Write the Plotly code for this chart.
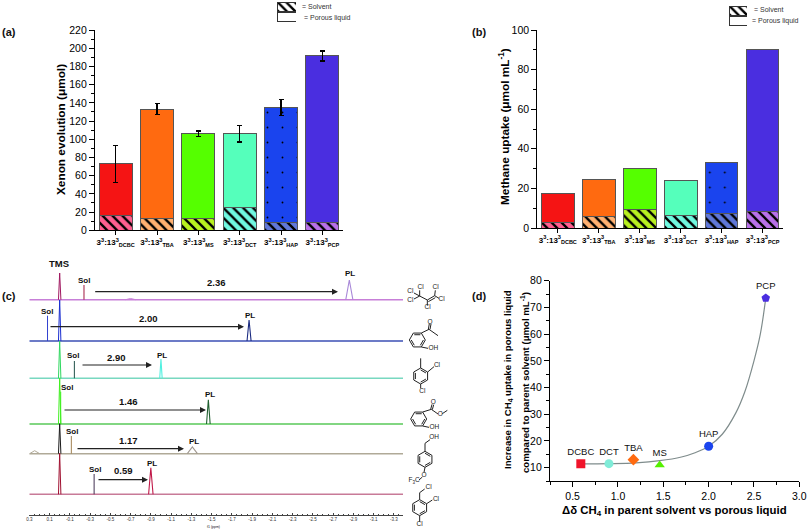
import math
import plotly.graph_objects as go

W, H = 808, 531
FONT = "Liberation Sans"

# ---- panels (a), (b) data
LABELS = ["DCBC", "TBA", "MS", "DCT", "HAP", "PCP"]
XE_TOTAL = [73, 133, 106, 106, 135, 191.5]
XE_SOLVENT = [16.5, 12.5, 12.5, 25, 8.5, 8.5]
XE_ERR = [20.5, 6, 3, 9, 9, 5.5]
CH4_TOTAL = [17.3, 24.5, 30, 23.8, 33, 90]
CH4_SOLVENT = [2.8, 6, 9.5, 6.3, 7.3, 8.5]
TOP_COLORS = ["#f51414", "#ff6a10", "#55ff00", "#55ffbb", "#1a44ee", "#4a2ee0"]
HATCH_COLORS = ["#ff5f90", "#ffb070", "#b8f020", "#70f8e0", "#6078d8", "#b870e8"]
TOP_PATTERN = ["", "", "", "", ".", ""]

# ---- panel (d) data
D_X = [0.59, 0.90, 1.17, 1.46, 2.00, 2.63]
D_Y = [11.5, 11.5, 13, 11, 18, 73.5]
D_NAMES = ["DCBC", "DCT", "TBA", "MS", "HAP", "PCP"]
D_SYMBOLS = ["square", "circle", "diamond", "triangle-up", "circle", "pentagon"]
D_COLORS = ["#f0142a", "#80ecd8", "#ff6a10", "#55f000", "#1a44ee", "#4a2ee0"]
CURVE_X = [0.60, 0.90, 1.20, 1.46, 1.70, 1.85, 2.00, 2.15, 2.30, 2.40, 2.50, 2.57, 2.63]
CURVE_Y = [11.4, 11.5, 11.8, 12.6, 14.0, 15.6, 18.0, 22.5, 30.5, 38.5, 50, 60, 73.5]

# ---- panel (c) data: six stacked spectra, top to bottom
ROW_BASE = [215.3, 174, 136.7, 91, 61.3, 20.7]
TMS_HEIGHT = [26.7, 41, 37, 46, 30, 41]
SOL_PPM = [-0.24, 0.12, -0.145, -0.01, -0.115, -0.34]
SOL_HEIGHT = [14.7, 25.3, 17.3, 32.3, 17.7, 20.3]
PL_PPM = [-2.86, -1.87, -1.00, -1.468, -1.31, -0.90]
PL_HEIGHT = [19.7, 21, 19.3, 24.3, 6.7, 26.6]
PL_WIDTH = [0.035, 0.02, 0.012, 0.018, 0.05, 0.022]
ROW_COLOR = ["#c77fd8", "#3b4fb5", "#78d8c0", "#58c858", "#b0aa98", "#c87a98"]
TMS_COLOR = ["#a01860", "#1a2ed0", "#30d860", "#40f020", "#1a1a1a", "#a01030"]
SOL_COLOR = ["#a01840", "#3040d0", "#205048", "#40f020", "#a08050", "#403050"]
PL_COLOR = ["#a888d8", "#1a2a80", "#50f0e0", "#206030", "#a09890", "#c01848"]
PPM_TICKS = [0.3, 0.1, -0.1, -0.3, -0.5, -0.7, -0.9, -1.1, -1.3, -1.5, -1.7, -1.9,
             -2.1, -2.3, -2.5, -2.7, -2.9, -3.1, -3.3]
SMALL_PPM = [0.247, -0.70]
SMALL_HEIGHT = [3, 1.2]
SMALL_ROW = [4, 0]

# Sol / PL labels, arrows and shift values (page pixels)
SOL_LABEL_X = [84, 47, 73, 67, 72, 95]
SOL_LABEL_Y = [280.7, 311.7, 355.7, 387.3, 431, 469]
PL_LABEL_X = [350, 250, 162, 210, 194, 152]
PL_LABEL_Y = [274, 315, 355, 394, 441, 463.7]
SHIFT_TEXT = ["2.36", "2.00", "2.90", "1.46", "1.17", "0.59"]
SHIFT_X = [216, 148, 117, 128, 128, 123]
SHIFT_Y = [282, 318, 357, 401, 440, 470]
ARROW_X0 = [93.7, 49, 81, 63, 76, 97]
ARROW_X1 = [338, 244, 152, 206, 184, 148]
ARROW_Y = [291.7, 326.7, 365, 410, 448.7, 479.7]

# ---- structure sketches (units: 1/3 px, inside the structure box)
RINGS = [(40, 225, "flat"), (50, 333, "point"), (44, 462, "flat"), (63, 583, "point"), (47, 728, "point")]
BONDS = [
    ((47, 93), (70, 105)), ((70, 105), (92, 92)), ((73, 110), (94, 98)), ((47, 93), (47, 76)),
    ((47, 93), (30, 84)), ((47, 93), (30, 102)), ((92, 92), (94, 76)), ((92, 92), (105, 100)),
    ((70, 105), (70, 122)),
    ((52, 204), (75, 193)), ((73, 193), (76, 176)), ((78, 193), (81, 177)), ((75, 193), (102, 212)),
    ((52, 246), (72, 250)),
    ((50, 309), (50, 280)), ((71, 321), (90, 305)), ((50, 357), (50, 370)),
    ((56, 441), (82, 433)), ((80, 433), (84, 418)), ((85, 434), (89, 419)), ((82, 433), (102, 447)),
    ((115, 446), (130, 436)), ((56, 483), (75, 487)),
    ((63, 559), (63, 535)), ((63, 535), (78, 524)), ((63, 607), (60, 622)), ((55, 636), (45, 645)),
    ((47, 704), (47, 683)), ((47, 683), (62, 672)), ((68, 716), (85, 705)), ((47, 752), (47, 770)),
]
ATOM_TEXT = ["Cl", "Cl", "Cl", "Cl", "Cl", "Cl", "O", "OH", "Cl", "Cl", "O", "O", "OH", "OH", "O", "F<sub>3</sub>C",
             "Cl", "Cl", "Cl"]
ATOM_X = [50, 19, 19, 95, 113, 71, 78, 88, 99, 55, 88, 109, 91, 90, 60, 30, 74, 96, 47]
ATOM_Y = [68, 80, 105, 68, 104, 128, 172, 250, 301, 378, 412, 449, 488, 517, 630, 647, 667, 704, 778]


def px_x(a, b):
    return [a / W, b / W]


def px_y(bottom, top):
    return [1 - bottom / H, 1 - top / H]


def tick_label(name):
    return ("<b>3<sup>3</sup>:13<sup>3</sup>"
            f"<sub><span style='font-size:5.5px'>{name}</span></sub></b>")


fig = go.Figure()


def add_bars(total, solvent, err, xa, ya):
    for i in range(6):
        fig.add_trace(go.Bar(
            x=[i + 1], y=[solvent[i]], xaxis=xa, yaxis=ya, width=0.8, showlegend=False,
            marker=dict(color=HATCH_COLORS[i], line=dict(color="#555555", width=1),
                        pattern=dict(shape="\\", size=7, solidity=0.33, fgcolor="#000000",
                                     bgcolor=HATCH_COLORS[i], fillmode="replace")),
        ))
    for i in range(6):
        ey = None
        if err:
            ey = dict(type="data", array=[err[i]], color="black", thickness=1.2, width=2.5)
        m = dict(color=TOP_COLORS[i], line=dict(color="#555555", width=1))
        if TOP_PATTERN[i]:
            m["pattern"] = dict(shape=TOP_PATTERN[i], size=15, solidity=0.012, fgcolor="#000000",
                                bgcolor=TOP_COLORS[i], fillmode="replace")
        fig.add_trace(go.Bar(x=[i + 1], y=[total[i] - solvent[i]], xaxis=xa, yaxis=ya, width=0.8,
                             showlegend=False, error_y=ey, marker=m))


add_bars(XE_TOTAL, XE_SOLVENT, XE_ERR, "x", "y")
add_bars(CH4_TOTAL, CH4_SOLVENT, None, "x2", "y2")

# legend swatches, one small axis pair for each
for xa, ya in (("x5", "y5"), ("x6", "y6")):
    fig.add_trace(go.Bar(y=[0], x=[1], orientation="h", xaxis=xa, yaxis=ya, width=0.86, showlegend=False,
                         marker=dict(color="white", line=dict(color="#333333", width=1))))
    fig.add_trace(go.Bar(y=[1], x=[1], orientation="h", xaxis=xa, yaxis=ya, width=0.86, showlegend=False,
                         marker=dict(color="white", line=dict(color="#333333", width=1),
                                     pattern=dict(shape="\\", size=6, solidity=0.4, fgcolor="#000000",
                                                  bgcolor="white", fillmode="replace"))))

# panel (c)
for i in range(6):
    b = ROW_BASE[i]
    fig.add_trace(go.Scatter(x=[0.3, -3.39], y=[b, b], xaxis="x3", yaxis="y3", mode="lines",
                             showlegend=False, line=dict(color=ROW_COLOR[i], width=1.5)))
    fig.add_trace(go.Scatter(x=[PL_PPM[i] + PL_WIDTH[i], PL_PPM[i], PL_PPM[i] - PL_WIDTH[i]],
                             y=[b, b + PL_HEIGHT[i], b], xaxis="x3", yaxis="y3", mode="lines",
                             showlegend=False, line=dict(color=PL_COLOR[i], width=1.1)))
    fig.add_trace(go.Scatter(x=[SOL_PPM[i], SOL_PPM[i]], y=[b, b + SOL_HEIGHT[i]], xaxis="x3", yaxis="y3",
                             mode="lines", showlegend=False, line=dict(color=SOL_COLOR[i], width=1)))
    fig.add_trace(go.Scatter(x=[0.012, 0, -0.012], y=[b, b + TMS_HEIGHT[i], b], xaxis="x3", yaxis="y3",
                             mode="lines", showlegend=False, line=dict(color=TMS_COLOR[i], width=1)))
for p, h, r in zip(SMALL_PPM, SMALL_HEIGHT, SMALL_ROW):
    b = ROW_BASE[r]
    fig.add_trace(go.Scatter(x=[p + 0.05, p, p - 0.05], y=[b, b + h, b], xaxis="x3", yaxis="y3", mode="lines",
                             showlegend=False, line=dict(color=ROW_COLOR[r], width=1)))

# panel (d)
fig.add_trace(go.Scatter(x=CURVE_X, y=CURVE_Y, xaxis="x4", yaxis="y4", mode="lines", showlegend=False,
                         line=dict(color="#7f8c8c", width=1.2, shape="spline")))
fig.add_trace(go.Scatter(x=D_X, y=D_Y, text=D_NAMES, xaxis="x4", yaxis="y4", mode="markers+text",
                         textposition="top center", showlegend=False,
                         textfont=dict(family=FONT, size=9.5, color="#111111"),
                         marker=dict(symbol=D_SYMBOLS, color=D_COLORS, size=9, line=dict(width=0))))

# structures
bx, by = [], []
for (a, c) in BONDS:
    bx += [a[0], c[0], None]
    by += [a[1], c[1], None]
fig.add_trace(go.Scatter(x=bx, y=by, xaxis="x7", yaxis="y7", mode="lines", showlegend=False,
                         line=dict(color="#222222", width=1)))
for cx, cy, kind in RINGS:
    start = 0 if kind == "flat" else 30
    vx = [cx + 24 * math.cos(math.radians(start + 60 * k)) for k in range(7)]
    vy = [cy + 24 * math.sin(math.radians(start + 60 * k)) for k in range(7)]
    fig.add_trace(go.Scatter(x=vx, y=vy, xaxis="x7", yaxis="y7", mode="lines", showlegend=False,
                             line=dict(color="#222222", width=1)))
    ix, iy = [], []
    for k in (0, 2, 4):
        ix += [cx + 0.76 * (vx[k] - cx), cx + 0.76 * (vx[k + 1] - cx), None]
        iy += [cy + 0.76 * (vy[k] - cy), cy + 0.76 * (vy[k + 1] - cy), None]
    fig.add_trace(go.Scatter(x=ix, y=iy, xaxis="x7", yaxis="y7", mode="lines", showlegend=False,
                             line=dict(color="#222222", width=1)))
fig.add_trace(go.Scatter(x=ATOM_X, y=ATOM_Y, text=ATOM_TEXT, xaxis="x7", yaxis="y7", mode="text",
                         showlegend=False, textfont=dict(family=FONT, size=6.5, color="#222222")))

annotations = []


def note(x, y, text, size, bold=False, color="#111111", angle=0):
    t = f"<b>{text}</b>" if bold else text
    annotations.append(dict(x=x / W, y=1 - y / H, xref="paper", yref="paper", text=t, showarrow=False,
                            xanchor="center", yanchor="middle", textangle=angle,
                            font=dict(family=FONT, size=size, color=color)))


for t, x, y in (("(a)", 9, 32), ("(b)", 479, 32), ("(c)", 9, 296), ("(d)", 479, 296)):
    note(x, y, t, 11, True)
note(59, 263.5, "TMS", 9.5, True)
for i in range(6):
    note(SOL_LABEL_X[i], SOL_LABEL_Y[i], "Sol", 8, True)
    note(PL_LABEL_X[i], PL_LABEL_Y[i], "PL", 8, True)
    note(SHIFT_X[i], SHIFT_Y[i], SHIFT_TEXT[i], 9.5, True)
    annotations.append(dict(x=ARROW_X1[i] / W, y=1 - ARROW_Y[i] / H, xref="paper", yref="paper", text="",
                            showarrow=True, ax=ARROW_X0[i] - ARROW_X1[i], ay=0, arrowhead=2, arrowsize=1,
                            arrowwidth=1.2, arrowcolor="#222222", standoff=0))
note(213, 527, "f1 (ppm)", 3.5)
note(316, 6, "= Solvent", 7, color="#333333")
note(327, 17.5, "= Porous liquid", 7, color="#333333")
note(768, 10, "= Solvent", 7, color="#333333")
note(775, 21, "= Porous liquid", 7, color="#333333")
note(61, 130, "Xenon evolution (μmol)", 11.8, True, "black", -90)
note(504, 127, "Methane uptake (μmol mL<sup>-1</sup>)", 11.8, True, "black", -90)
note(508, 380, "Increase in CH<sub>4</sub> uptake in porous liquid", 9.6, True, "black", -90)
note(525, 383, "compared to parent solvent (μmol mL<sup>-1</sup>)", 9.6, True, "black", -90)
note(674, 511, "Δδ CH<sub>4</sub> in parent solvent vs porous liquid", 11.4, True, "black")

tick_font = dict(family=FONT, size=10.5, color="black")
bar_tick = dict(family=FONT, size=8, color="black")
line = dict(showline=True, linecolor="black", linewidth=1.2, ticks="outside", tickcolor="black",
            tickwidth=1, showgrid=False, zeroline=False, automargin=False)


def bar_x(dom, anchor):
    return dict(domain=dom, anchor=anchor, range=[0.5, 6.5], tickmode="array", tickvals=list(range(1, 7)),
                ticktext=[tick_label(n) for n in LABELS], tickangle=0, tickfont=bar_tick, ticklen=4, **line)


fig.update_layout(
    width=W, height=H, margin=dict(l=0, r=0, t=0, b=0, autoexpand=False), paper_bgcolor="white",
    plot_bgcolor="white", barmode="stack", showlegend=False, annotations=annotations,
    xaxis=bar_x(px_x(95, 343), "y"),
    yaxis=dict(domain=px_y(230.3, 30), anchor="x", range=[0, 220], dtick=20, tickfont=tick_font, ticklen=5,
               minor=dict(dtick=10, ticks="outside", ticklen=3, tickcolor="black"), **line),
    xaxis2=bar_x(px_x(537.3, 783), "y2"),
    yaxis2=dict(domain=px_y(228, 30), anchor="x2", range=[0, 100], dtick=20, tickfont=tick_font, ticklen=5,
                minor=dict(dtick=10, ticks="outside", ticklen=3, tickcolor="black"), **line),
    xaxis3=dict(domain=px_x(29.3, 403), anchor="y3", range=[0.3, -3.39], tickmode="array", tickvals=PPM_TICKS,
                ticktext=[f"{v:.1f}" for v in PPM_TICKS], tickfont=dict(family=FONT, size=4.5, color="#333333"),
                showline=True, linecolor="#444444", linewidth=0.7, ticks="inside", ticklen=2, tickwidth=0.6,
                tickcolor="#444444", showgrid=False, zeroline=False, automargin=False,
                minor=dict(dtick=0.05, ticks="inside", ticklen=1, tickcolor="#444444")),
    yaxis3=dict(domain=px_y(515, 265), anchor="x3", range=[0, 250], visible=False, automargin=False),
    xaxis4=dict(domain=px_x(550, 799.3), anchor="y4", range=[0.25, 3.0], dtick=0.5, tick0=0.5,
                tickformat=".1f", tickfont=tick_font, ticklen=5,
                minor=dict(dtick=0.25, ticks="outside", ticklen=3, tickcolor="black"), **line),
    yaxis4=dict(domain=px_y(481, 280.7), anchor="x4", range=[5, 80], dtick=10, tick0=0, tickfont=tick_font,
                ticklen=5, minor=dict(dtick=5, ticks="outside", ticklen=3, tickcolor="black"), **line),
    xaxis5=dict(domain=px_x(277, 296), anchor="y5", range=[0, 1], visible=False, automargin=False),
    yaxis5=dict(domain=px_y(22.5, 1.5), anchor="x5", range=[-0.5, 1.5], visible=False, automargin=False),
    xaxis6=dict(domain=px_x(729, 747), anchor="y6", range=[0, 1], visible=False, automargin=False),
    yaxis6=dict(domain=px_y(26.5, 5.5), anchor="x6", range=[-0.5, 1.5], visible=False, automargin=False),
    xaxis7=dict(domain=px_x(404, 464), anchor="y7", range=[0, 180], visible=False, automargin=False),
    yaxis7=dict(domain=px_y(531, 265), anchor="x7", range=[798, 0], visible=False, automargin=False),
)

fig.write_html("out.html", config={"displayModeBar": False},
               post_script="document.body.style.margin='0';document.body.style.overflow='hidden';")
